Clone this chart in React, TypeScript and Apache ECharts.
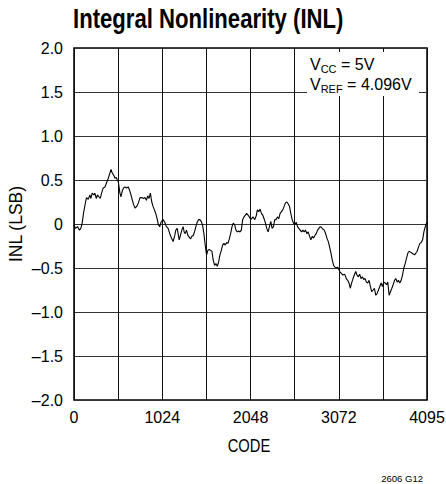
import React, { useEffect, useRef } from "react";
import * as echarts from "echarts";

const codes: number[] = [
  0, 17, 41, 64, 79, 95, 110, 134, 145, 165, 184, 196, 211, 231, 242, 258, 273, 289, 305, 320,
  339, 359, 374, 398, 417, 429, 444, 463, 475, 491, 502, 514, 533, 545, 561, 576, 591, 611, 630, 646,
  661, 677, 692, 708, 727, 747, 766, 785, 805, 824, 840, 855, 871, 886, 902, 917, 933, 948, 964, 979,
  995, 1010, 1034, 1053, 1072, 1092, 1111, 1131, 1150, 1169, 1181, 1197, 1208, 1220, 1235, 1251, 1266, 1278, 1290, 1305,
  1321, 1336, 1352, 1367, 1383, 1398, 1414, 1429, 1445, 1460, 1476, 1491, 1507, 1522, 1538, 1553, 1569, 1584, 1600, 1615,
  1631, 1646, 1662, 1678, 1693, 1709, 1724, 1740, 1755, 1771, 1786, 1802, 1817, 1833, 1848, 1864, 1879, 1895, 1910, 1926,
  1941, 1957, 1972, 1988, 2003, 2019, 2034, 2050, 2058, 2077, 2097, 2116, 2127, 2143, 2159, 2174, 2190, 2205, 2221, 2236,
  2252, 2267, 2283, 2298, 2314, 2329, 2345, 2360, 2376, 2391, 2407, 2422, 2438, 2453, 2469, 2484, 2500, 2515, 2531, 2546,
  2562, 2577, 2593, 2608, 2624, 2639, 2655, 2670, 2686, 2702, 2717, 2733, 2748, 2764, 2779, 2795, 2810, 2826, 2841, 2857,
  2872, 2888, 2903, 2919, 2934, 2950, 2965, 2981, 2996, 3012, 3027, 3043, 3058, 3074, 3082, 3101, 3120, 3140, 3159, 3175,
  3190, 3206, 3221, 3237, 3252, 3268, 3283, 3299, 3314, 3330, 3345, 3361, 3376, 3392, 3407, 3423, 3438, 3454, 3470, 3485,
  3501, 3516, 3532, 3547, 3563, 3578, 3594, 3609, 3625, 3640, 3656, 3671, 3687, 3702, 3718, 3733, 3749, 3764, 3780, 3795,
  3811, 3826, 3842, 3857, 3873, 3888, 3904, 3919, 3935, 3950, 3966, 3981, 3997, 4013, 4028, 4044, 4059, 4075, 4090, 4095,
];

const inl: number[] = [
  -0.01, -0.05, -0.03, -0.07, -0.05, 0.01, 0.12, 0.25, 0.3, 0.28, 0.33, 0.29, 0.35, 0.33, 0.35, 0.29, 0.33, 0.31, 0.29, 0.35,
  0.41, 0.42, 0.46, 0.52, 0.58, 0.62, 0.58, 0.55, 0.52, 0.53, 0.5, 0.48, 0.35, 0.31, 0.38, 0.41, 0.42, 0.41, 0.42, 0.38,
  0.33, 0.27, 0.22, 0.18, 0.2, 0.24, 0.3, 0.3, 0.29, 0.3, 0.27, 0.32, 0.29, 0.35, 0.25, 0.2, 0.16, 0.12, 0.06, -0.01,
  -0.03, 0.02, 0.05, 0.02, -0.03, -0.05, -0.11, -0.16, -0.2, -0.13, -0.07, -0.05, -0.11, -0.18, -0.13, -0.07, -0.03, -0.09, -0.11, -0.07,
  -0.13, -0.15, -0.17, -0.14, -0.13, -0.09, -0.03, 0.02, 0.05, 0.05, 0.03, -0.01, -0.11, -0.24, -0.35, -0.3, -0.29, -0.3, -0.31, -0.41,
  -0.47, -0.45, -0.48, -0.43, -0.35, -0.3, -0.24, -0.22, -0.24, -0.21, -0.22, -0.17, -0.11, -0.03, 0.01, -0.01, -0.07, -0.09, -0.08, -0.09,
  -0.07, 0.05, 0.08, 0.1, 0.12, 0.1, 0.08, 0.05, 0.05, 0.08, 0.05, 0.1, 0.16, 0.14, 0.17, 0.12, 0.1, 0.06, 0.01, -0.05,
  -0.09, -0.03, 0.03, -0.05, -0.03, 0.05, 0.05, 0.08, 0.06, 0.12, 0.14, 0.16, 0.2, 0.24, 0.25, 0.23, 0.2, 0.12, 0.05, 0.01,
  -0.01, 0.02, -0.03, -0.05, -0.07, -0.09, -0.07, -0.09, -0.07, -0.11, -0.09, -0.14, -0.18, -0.14, -0.16, -0.13, -0.11, -0.07, -0.05, -0.03,
  -0.04, -0.06, -0.07, -0.11, -0.16, -0.2, -0.26, -0.33, -0.41, -0.47, -0.49, -0.5, -0.49, -0.52, -0.54, -0.56, -0.58, -0.57, -0.62, -0.64,
  -0.67, -0.73, -0.67, -0.62, -0.58, -0.54, -0.58, -0.6, -0.57, -0.62, -0.6, -0.63, -0.62, -0.66, -0.67, -0.64, -0.71, -0.77, -0.75, -0.73,
  -0.81, -0.79, -0.75, -0.71, -0.67, -0.71, -0.66, -0.67, -0.69, -0.66, -0.81, -0.77, -0.73, -0.69, -0.64, -0.62, -0.66, -0.64, -0.67, -0.64,
  -0.58, -0.5, -0.45, -0.39, -0.33, -0.31, -0.32, -0.33, -0.34, -0.35, -0.33, -0.31, -0.26, -0.22, -0.21, -0.18, -0.09, -0.03, 0.01, 0.02,
];

const xLabelValues: number[] = [0, 1024, 2048, 3072, 4095];
const titleText = "Integral Nonlinearity (INL)";
const xName = "CODE";
const yName = "INL (LSB)";
const noteLine1 = "{a|V}{b|CC}{a| = 5V}";
const noteLine2 = "{a|V}{b|REF}{a| = 4.096V}";
const figureId = "2606 G12";

const REG = '"Liberation Sans", Arial, Helvetica, sans-serif';

export default function App() {
  const ref = useRef<HTMLDivElement>(null);
  useEffect(() => {
    if (!ref.current) return;
    const chart = echarts.init(ref.current, undefined, { renderer: "svg" });
    const data = codes.map((c, i) => [c, inl[i]]);
    const richStyle = {
      a: { fontFamily: REG, fontSize: 16, lineHeight: 20, color: "#000", verticalAlign: "middle" },
      b: { fontFamily: REG, fontSize: 11, lineHeight: 11, color: "#000", verticalAlign: "bottom" },
    };
    chart.setOption({
      animation: false,
      backgroundColor: "#fff",
      grid: {
        left: 74,
        top: 48,
        width: 353,
        height: 352,
        show: true,
        borderColor: "#000",
        borderWidth: 1.5,
        containLabel: false,
        outerBoundsMode: "none",
      },
      xAxis: {
        type: "value",
        min: 0,
        max: 4095,
        interval: 512,
        axisLine: { show: false },
        axisTick: { show: false },
        axisLabel: {
          fontFamily: REG,
          fontSize: 16,
          color: "#000",
          margin: 9,
          showMinLabel: true,
          showMaxLabel: true,
          hideOverlap: false,
          formatter: (v: number) => (xLabelValues.indexOf(v) >= 0 ? String(v) : ""),
        },
        splitLine: { show: true, lineStyle: { color: "#111", width: 1 } },
      },
      yAxis: {
        type: "value",
        min: -2,
        max: 2,
        interval: 0.5,
        name: yName,
        nameLocation: "middle",
        nameGap: 49,
        nameRotate: 90,
        nameMoveOverlap: false,
        nameTextStyle: { fontFamily: REG, fontSize: 17.5, color: "#000" },
        axisLine: { show: false },
        axisTick: { show: false },
        axisLabel: {
          fontFamily: REG,
          fontSize: 16,
          color: "#000",
          margin: 11,
          formatter: (v: number) =>
            v === 0 ? "0" : (v < 0 ? "\u2013" : "") + Math.abs(v).toFixed(1),
        },
        splitLine: { show: true, lineStyle: { color: "#333", width: 1 } },
      },
      graphic: [
        {
          type: "text",
          x: 73,
          y: 19,
          scaleX: 0.82,
          style: {
            text: titleText,
            fontFamily: REG,
            fontSize: 27,
            fontWeight: "bold",
            fill: "#000",
            align: "left",
            verticalAlign: "middle",
          },
        },
        {
          type: "text",
          x: 249,
          y: 445.5,
          scaleX: 0.82,
          style: {
            text: xName,
            fontFamily: REG,
            fontSize: 18,
            fill: "#000",
            align: "center",
            verticalAlign: "middle",
          },
        },
        {
          type: "rect",
          shape: { x: 307, y: 52, width: 112, height: 44 },
          style: { fill: "#fff" },
          z: 10,
        },
        {
          type: "text",
          x: 310,
          y: 54,
          z: 11,
          style: { text: noteLine1, rich: richStyle, verticalAlign: "top", align: "left" },
        },
        {
          type: "text",
          x: 310,
          y: 74,
          z: 11,
          style: { text: noteLine2, rich: richStyle, verticalAlign: "top", align: "left" },
        },
        {
          type: "text",
          x: 423,
          y: 478,
          style: {
            text: figureId,
            fontFamily: REG,
            fontSize: 9.5,
            fill: "#000",
            align: "right",
            verticalAlign: "middle",
          },
        },
      ],
      series: [
        {
          type: "line",
          data,
          showSymbol: false,
          symbol: "none",
          lineStyle: { color: "#000", width: 1.1 },
          z: 5,
        },
      ],
    });
    return () => chart.dispose();
  }, []);
  return (
    <div
      ref={ref}
      style={{ width: 446, height: 484, position: "absolute", left: 0, top: 0 }}
    />
  );
}
